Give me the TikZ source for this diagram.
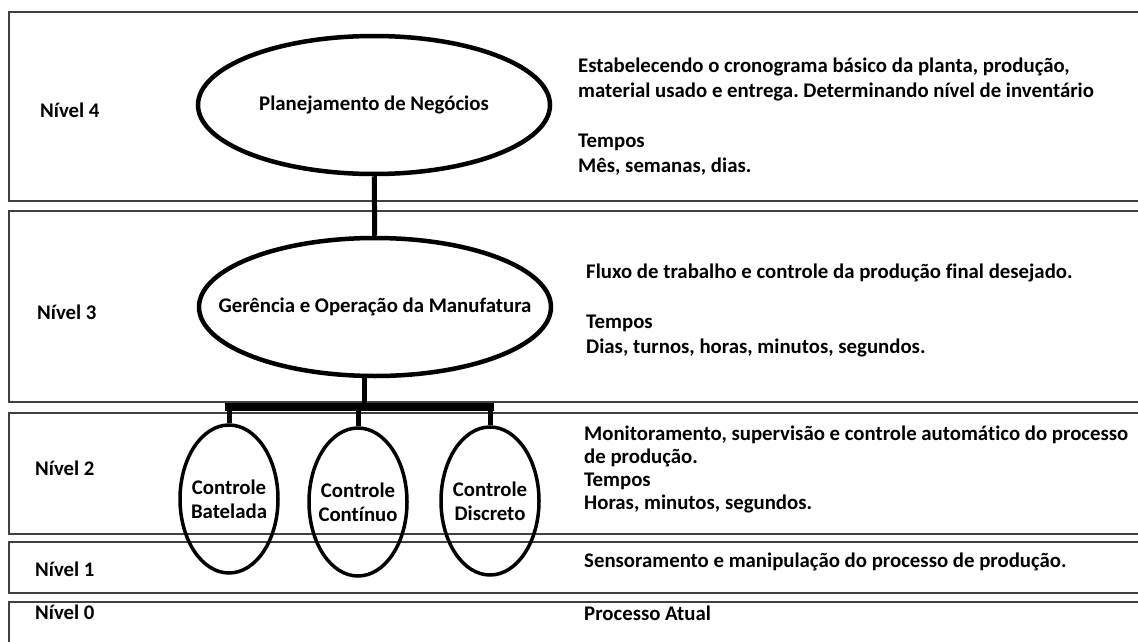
\documentclass[tikz,border=0pt]{standalone}
\usepackage{fontspec}
\setmainfont[Ligatures=NoCommon]{Carlito}
\frenchspacing
\usetikzlibrary{shapes.geometric}
\tikzstyle{level} = [draw=black!75, line width=1.6pt]
\tikzstyle{bigell} = [ellipse, draw=black, line width=4.5pt, minimum width=352pt, minimum height=138pt, inner sep=0pt]
\tikzstyle{smallell} = [ellipse, draw=black, line width=3.5pt, minimum width=98pt, minimum height=148pt, inner sep=0pt]
\tikzstyle{etext} = [align=center, inner sep=0pt, font=\fontsize{20.8}{24}\selectfont\bfseries]
\tikzstyle{link} = [line width=5pt]
\tikzstyle{busline} = [line width=7.5pt, line cap=rect]
\tikzstyle{lbl} = [anchor=west, inner sep=0pt, font=\fontsize{20.8}{25}\selectfont\bfseries]
\tikzstyle{desc} = [anchor=west, align=left, inner sep=0pt, font=\fontsize{20.8}{25}\selectfont\bfseries]

\begin{document}
\begin{tikzpicture}[x=1pt, y=-1pt]
\useasboundingbox (0,0) rectangle (1138,642);
\clip (0,0) rectangle (1138,642);
\fill[white] (0,0) rectangle (1138,642);
% the five levels, open to the right
\foreach \t/\b in {12/201, 211/402, 413/534, 542/593, 602/660}
	\draw[level] (9,\t) rectangle (1150,\b);

\node[lbl] (n4) at (40,110) {Nível 4};
\node[lbl] (n3) at (37,312) {Nível 3};
\node[lbl] (n2) at (35,468) {Nível 2};
\node[lbl] (n1) at (35,569) {Nível 1};
\node[lbl] (n0) at (35,612) {Nível 0};

\node[bigell] (plan) at (374,105) {};
\node[etext] (plant) at (plan) {Planejamento de Negócios};
\node[bigell] (ger) at (375,307) {};
\node[etext] (gert) at (ger) {Gerência e Operação da Manufatura};
\node[smallell] (bat) at (229,499) {};
\node[etext] (batt) at (bat) {Controle\\Batelada};
\node[smallell] (con) at (358,502) {};
\node[etext] (cont) at (con) {Controle\\Contínuo};
\node[smallell] (dis) at (490,501) {};
\node[etext] (dist) at (dis) {Controle\\Discreto};

\coordinate (bus) at (364,407);
\draw[link] (plan) -- (ger);
\draw[link] (ger.south -| bus) -- (bus);
\draw[busline] (bat.north |- bus) -- (dis.north |- bus);
\draw[link] (bat.north |- bus) -- (bat.north);
\draw[link] (con.north |- bus) -- (con.north);
\draw[link] (dis.north |- bus) -- (dis.north);

\node[desc] (d4) at (578,117) {Estabelecendo o cronograma básico da planta, produção,\\material usado e entrega. Determinando nível de inventário\\[25pt]Tempos\\Mês, semanas, dias.};
\node[desc] (d3) at (586,310) {Fluxo de trabalho e controle da produção final desejado.\\[25pt]Tempos\\Dias, turnos, horas, minutos, segundos.};
\node[desc, font=\fontsize{20.8}{23}\selectfont\bfseries] (d2) at (584,469) {Monitoramento, supervisão e controle automático do processo\\de produção.\\Tempos\\Horas, minutos, segundos.};
\node[desc] (d1) at (584,562) {Sensoramento e manipulação do processo de produção.};
\node[desc] (d0) at (584,613) {Processo Atual};
\end{tikzpicture}
\end{document}
